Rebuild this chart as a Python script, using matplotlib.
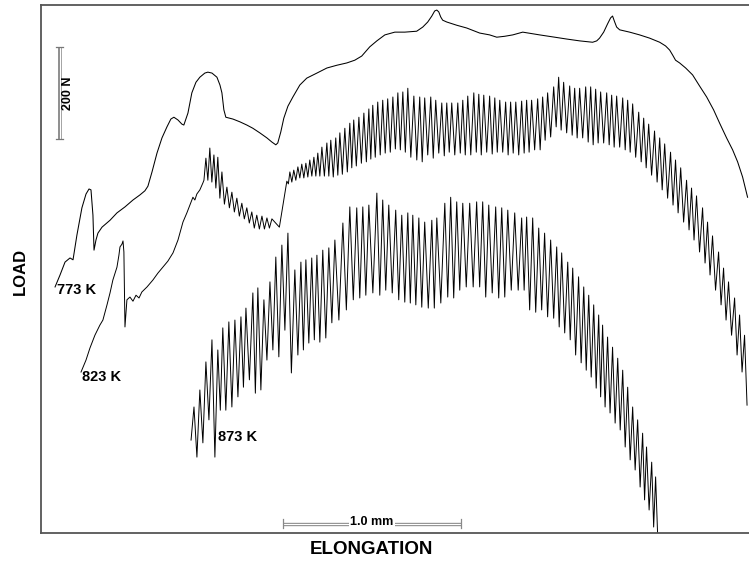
import numpy as np
import matplotlib
matplotlib.use("Agg")
import matplotlib.pyplot as plt

plt.rcParams["font.family"] = ["Liberation Sans", "DejaVu Sans"]

# 773 K: smooth load trace (elongation in mm, load in N)
elong_773 = [0.079, 0.107, 0.135, 0.163, 0.180, 0.202, 0.230, 0.253, 0.270, 0.281,
             0.292, 0.298, 0.309, 0.320, 0.343, 0.388, 0.427, 0.472, 0.517, 0.556,
             0.584, 0.601, 0.624, 0.652, 0.680, 0.708, 0.730, 0.747, 0.770, 0.792,
             0.803, 0.826, 0.848, 0.871, 0.893, 0.921, 0.938, 0.961, 0.989, 1.006,
             1.017, 1.028, 1.039, 1.079, 1.118, 1.157, 1.191, 1.230, 1.270, 1.298,
             1.320, 1.331, 1.348, 1.365, 1.388, 1.416, 1.455, 1.494, 1.551, 1.607,
             1.663, 1.719, 1.764, 1.803, 1.848, 1.888, 1.933, 1.989, 2.045, 2.112,
             2.146, 2.174, 2.197, 2.213, 2.225, 2.236, 2.247, 2.258, 2.281, 2.337,
             2.393, 2.466, 2.522, 2.562, 2.607, 2.652, 2.708, 2.803, 2.888, 2.955,
             3.028, 3.101, 3.124, 3.140, 3.163, 3.185, 3.202, 3.213, 3.225, 3.236,
             3.253, 3.309, 3.365, 3.421, 3.478, 3.511, 3.534, 3.551, 3.567, 3.590,
             3.624, 3.663, 3.702, 3.742, 3.781, 3.815, 3.854, 3.888, 3.916, 3.944,
             3.972]
load_773 = [535, 561, 589, 598, 594, 648, 707, 737, 748, 746,
            691, 615, 637, 652, 665, 680, 696, 709, 724, 735,
            744, 754, 785, 826, 859, 883, 900, 904, 898, 889,
            887, 913, 957, 980, 991, 1000, 1002, 1000, 991, 974,
            957, 920, 904, 900, 894, 887, 880, 870, 859, 850,
            844, 848, 872, 902, 928, 948, 974, 989, 1000, 1011,
            1017, 1022, 1028, 1037, 1057, 1070, 1083, 1089, 1089, 1091,
            1100, 1111, 1124, 1135, 1137, 1133, 1122, 1115, 1111, 1104,
            1098, 1087, 1083, 1078, 1080, 1083, 1089, 1083, 1078, 1074,
            1070, 1067, 1070, 1076, 1089, 1107, 1120, 1124, 1111, 1100,
            1094, 1089, 1083, 1076, 1067, 1059, 1050, 1039, 1028, 1022,
            1011, 996, 972, 948, 920, 891, 859, 833, 807, 774,
            730]

# 823 K: smooth rise before the serrations start
elong_823_rise = [0.225, 0.253, 0.275, 0.303, 0.331, 0.348, 0.371, 0.388, 0.404, 0.427,
                  0.438, 0.444, 0.455, 0.461, 0.466, 0.472, 0.483, 0.500, 0.517, 0.534,
                  0.551, 0.567, 0.596, 0.629, 0.657, 0.685, 0.713, 0.742, 0.770, 0.781,
                  0.798, 0.820, 0.837, 0.854, 0.865, 0.876, 0.893, 0.910]
load_823_rise = [350, 376, 402, 430, 452, 463, 496, 522, 550, 578,
                 604, 622, 628, 635, 611, 448, 507, 513, 504, 517,
                 511, 524, 535, 550, 565, 578, 591, 609, 637, 652,
                 676, 696, 713, 730, 724, 737, 746, 761]

# 823 K serrations: elongation and load at each peak, load at each trough
peak_elong_823 = [0.927, 0.949, 0.972, 0.994, 1.017, 1.045, 1.073, 1.101, 1.129, 1.157,
                  1.185, 1.213, 1.242, 1.270, 1.298,
                  1.382, 1.399, 1.421, 1.444, 1.466, 1.489, 1.511, 1.534, 1.556, 1.579,
                  1.607, 1.629, 1.657, 1.680, 1.708, 1.736, 1.758, 1.787, 1.815, 1.843,
                  1.865, 1.893, 1.921, 1.949, 1.978, 2.006, 2.034, 2.062, 2.096, 2.129,
                  2.157, 2.191, 2.219, 2.253, 2.281, 2.309, 2.343, 2.371, 2.399, 2.433,
                  2.461, 2.489, 2.522, 2.551, 2.579, 2.612, 2.640, 2.669, 2.702, 2.730,
                  2.758, 2.792, 2.820, 2.848, 2.882, 2.910, 2.938, 2.972, 3.000, 3.028,
                  3.062, 3.090, 3.118, 3.146, 3.180, 3.208, 3.236, 3.270, 3.298, 3.326,
                  3.360, 3.388, 3.416, 3.449, 3.478, 3.506, 3.539, 3.567, 3.596, 3.629,
                  3.657, 3.685, 3.719, 3.747, 3.775, 3.809, 3.837, 3.865, 3.899, 3.927,
                  3.955]
peak_load_823 = [815, 837, 822, 817, 785, 752, 741, 728, 717, 707,
                 698, 691, 689, 685, 683,
                 765, 785, 789, 796, 802, 804, 811, 817, 826, 839,
                 848, 854, 859, 870, 880, 891, 898, 904, 913, 922,
                 930, 937, 941, 944, 948, 957, 959, 967, 950, 948,
                 946, 948, 941, 935, 935, 935, 935, 941, 950, 957,
                 954, 952, 950, 946, 941, 937, 937, 937, 939, 941,
                 941, 944, 948, 957, 970, 991, 980, 972, 967, 967,
                 970, 970, 965, 959, 957, 952, 950, 946, 941, 933,
                 915, 902, 889, 874, 859, 846, 828, 811, 794, 767,
                 750, 733, 707, 676, 646, 611, 576, 546, 511, 474,
                 430]
trough_load_823 = [767,
                   767, 763, 750, 728, 715, 707, 698, 689, 683, 674,
                   663, 661, 661, 663,
                   665,
                   759, 763, 767, 772, 772, 774, 776, 776, 776, 776,
                   776, 774, 778, 780, 785, 794, 798, 804, 807, 813,
                   817, 822, 826, 828, 835, 833, 828, 817, 811,
                   807, 822, 815, 826, 820, 828, 822, 826, 822, 822,
                   828, 822, 828, 824, 828, 828, 822, 826, 822, 826,
                   828, 833, 833, 854, 861, 883, 876, 870, 865, 859,
                   859, 850, 844, 848, 848, 844, 839, 839, 833, 828,
                   817, 807, 794, 778, 763, 746, 728, 713, 696, 676,
                   659, 637, 611, 587, 561, 528, 496, 463, 430, 387,
                   350,
                   278]

# 873 K serrations
peak_elong_873 = [0.860, 0.893, 0.927, 0.961, 0.994, 1.022, 1.056, 1.090, 1.124, 1.152,
                  1.191, 1.219, 1.253, 1.287, 1.320, 1.354, 1.388, 1.427, 1.461, 1.489,
                  1.522, 1.551, 1.584, 1.618, 1.652, 1.697, 1.736, 1.775, 1.809, 1.843,
                  1.888, 1.921, 1.955, 1.994, 2.028, 2.062, 2.090, 2.124, 2.157, 2.197,
                  2.225, 2.270, 2.303, 2.337, 2.371, 2.410, 2.449, 2.483, 2.517, 2.556,
                  2.590, 2.624, 2.663, 2.702, 2.730, 2.764, 2.798, 2.831, 2.865, 2.899,
                  2.927, 2.961, 2.989, 3.022, 3.051, 3.079, 3.107, 3.135, 3.157, 3.185,
                  3.213, 3.242, 3.270, 3.298, 3.326, 3.354, 3.382, 3.404, 3.433, 3.455]
peak_load_873 = [274, 311, 372, 420, 398, 446, 459, 463, 470, 489,
                 522, 533, 507, 546, 600, 626, 652, 572, 589, 594,
                 598, 604, 615, 620, 637, 674, 709, 707, 709, 713,
                 739, 724, 713, 702, 691, 696, 691, 685, 676, 680,
                 685, 717, 730, 720, 717, 717, 720, 720, 713, 709,
                 707, 702, 696, 685, 687, 685, 663, 652, 637, 622,
                 609, 589, 576, 557, 535, 517, 496, 474, 452, 426,
                 404, 380, 354, 317, 274, 246, 217, 187, 154, 122]
trough_load_873 = [202,
                   165, 196, 246, 165, 267, 267, 274, 296, 317, 333,
                   304, 311, 376, 398, 383, 441, 348, 387, 398, 413,
                   420, 415, 424, 457, 463, 485, 507, 511, 517, 522,
                   517, 528, 522, 507, 502, 500, 496, 491, 489, 489,
                   500, 513, 511, 528, 535, 535, 535, 513, 522, 511,
                   513, 528, 528, 528, 485, 480, 485, 470, 467, 448,
                   435, 420, 387, 370, 354, 339, 315, 296, 274, 261,
                   239, 224, 187, 159, 137, 100, 72, 50, 13,
                   0]

curve_labels = ["773 K", "823 K", "873 K"]
label_elong = [0.090, 0.230, 0.994]
label_load = [528, 339, 209]

load_bar = 200      # N
elong_bar = 1.0     # mm


def sawtooth(peak_x, peak_y, trough_y):
    """Alternate trough/peak vertices; troughs sit between the peaks."""
    px = np.asarray(peak_x, dtype=float)
    tx = np.concatenate([[px[0] - (px[1] - px[0]) / 2],
                         (px[:-1] + px[1:]) / 2,
                         [px[-1] + (px[-1] - px[-2]) / 2]])
    x = np.empty(len(px) + len(tx))
    y = np.empty_like(x)
    x[0::2], x[1::2] = tx, px
    y[0::2], y[1::2] = trough_y, peak_y
    return x, y


fig = plt.figure(figsize=(7.49, 5.64), dpi=100)
ax = fig.add_axes([41 / 749, 31 / 564, 708 / 749, 528 / 564])

ax.plot(elong_773, load_773, color="black", lw=0.75)

sx, sy = sawtooth(peak_elong_823, peak_load_823, trough_load_823)
ax.plot(np.concatenate([elong_823_rise, sx]), np.concatenate([load_823_rise, sy]),
        color="black", lw=0.7)

sx, sy = sawtooth(peak_elong_873, peak_load_873, trough_load_873)
ax.plot(sx, sy, color="black", lw=0.7)

for text, x, y in zip(curve_labels, label_elong, label_load):
    ax.text(x, y, text, fontsize=10.5, fontweight="bold", ha="left", va="center")

# load scale bar
bx, by = 0.104, 857
ax.plot([bx, bx], [by, by + load_bar], color="#777777", lw=2.6, solid_capstyle="butt")
ax.plot([bx, bx], [by, by + load_bar], color="white", lw=1.0, solid_capstyle="butt")
for yy in (by, by + load_bar):
    ax.plot([bx - 0.022, bx + 0.022], [yy, yy], color="#777777", lw=0.9)
ax.text(bx + 0.048, by + load_bar / 2, f"{load_bar} N", rotation=90, fontsize=9,
        fontweight="bold", ha="center", va="center")

# elongation scale bar
ex, ey = 1.360, 20
ax.plot([ex, ex + elong_bar], [ey, ey], color="#888888", lw=2.4, solid_capstyle="butt")
ax.plot([ex, ex + elong_bar], [ey, ey], color="white", lw=0.9, solid_capstyle="butt")
for xx in (ex, ex + elong_bar):
    ax.plot([xx, xx], [ey - 10, ey + 10], color="#888888", lw=0.9)
ax.text(ex + elong_bar / 2, ey + 4, f"{elong_bar:.1f} mm", fontsize=9, fontweight="bold",
        ha="center", va="center", bbox=dict(facecolor="white", edgecolor="none", pad=1.2))

ax.set_xlim(0, 3.98)
ax.set_ylim(0, 1148)
ax.set_xticks([])
ax.set_yticks([])
ax.spines["right"].set_visible(False)
for side in ("left", "bottom", "top"):
    ax.spines[side].set_color("#555555")
    ax.spines[side].set_linewidth(1.3)

fig.text(20 / 749, 1 - 271 / 564, "LOAD", rotation=90, fontsize=12, fontweight="bold",
         ha="center", va="center")
fig.text(371 / 749, 1 - 550 / 564, "ELONGATION", fontsize=13.5, fontweight="bold",
         ha="center", va="center")

fig.savefig("out.png", dpi=100)
